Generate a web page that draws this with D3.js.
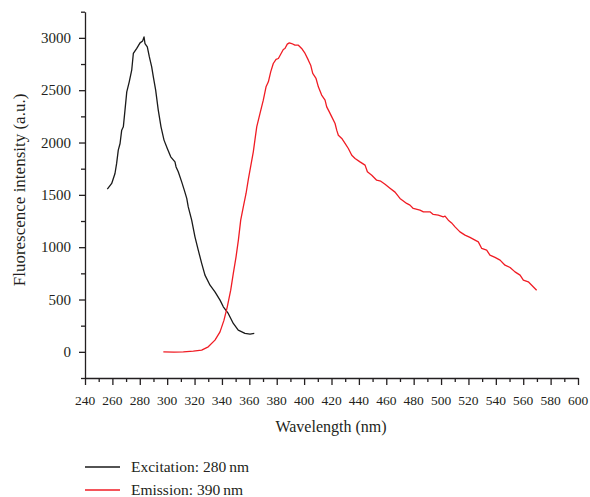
<!DOCTYPE html>
<html>
<head>
<meta charset="utf-8">
<script src="https://cdn.jsdelivr.net/npm/d3@7"></script>
<style>
  body { margin: 0; background: #fff; }
  svg text { font-family: "Liberation Serif", "DejaVu Serif", serif; fill: #231f20; }
</style>
</head>
<body>
<div id="chart"></div>
<script>
// excitation spectrum (wavelength nm, intensity a.u.)
const excWl = [256.3, 259.5, 261.9, 263.1, 264.3, 265.6, 266.8, 268.0, 269.2, 270.5, 272.3, 274.1, 275.3, 277.8, 280.2, 282.1, 283.1, 283.8, 285.5, 287.0, 288.7, 289.9, 291.6, 293.5, 295.5, 297.7, 300.1, 302.6, 305.7, 306.5, 308.1, 310.6, 312.5, 314.3, 315.4, 317.9, 320.3, 322.7, 325.2, 327.6, 331.3, 334.9, 338.6, 341.0, 344.6, 348.3, 351.9, 356.8, 360.5, 363.6];
const excVal = [1554, 1609, 1704, 1800, 1927, 1991, 2118, 2150, 2309, 2484, 2580, 2691, 2851, 2899, 2952, 2971, 3009, 2946, 2914, 2818, 2723, 2627, 2500, 2309, 2150, 2023, 1943, 1863, 1815, 1767, 1720, 1624, 1545, 1466, 1385, 1258, 1099, 972, 845, 733, 637, 573, 494, 430, 367, 271, 207, 176, 169, 176];

// emission spectrum
const emWl = [297.2, 305.0, 311.8, 319.1, 325.2, 330.0, 334.9, 338.6, 341.5, 343.9, 346.4, 348.3, 350.3, 352.0, 353.7, 355.6, 357.6, 359.3, 362.9, 365.4, 367.8, 370.2, 372.2, 373.9, 375.6, 377.5, 379.5, 381.2, 382.9, 384.8, 386.0, 387.7, 389.2, 390.9, 393.3, 395.8, 398.2, 400.7, 403.1, 404.8, 406.3, 408.7, 410.4, 412.8, 415.3, 416.5, 418.4, 420.2, 422.6, 423.8, 425.0, 427.5, 429.9, 432.3, 434.8, 437.2, 440.8, 444.5, 446.2, 449.4, 453.0, 456.0, 459.1, 462.7, 466.4, 470.0, 474.9, 477.3, 479.7, 484.6, 487.1, 491.9, 494.3, 498.0, 501.6, 502.9, 505.3, 507.7, 510.2, 513.8, 517.5, 521.1, 524.8, 527.2, 529.7, 533.3, 535.7, 539.4, 543.1, 546.7, 550.4, 554.0, 557.7, 560.1, 563.7, 566.2, 569.8];
const emVal = [0, -2, 0, 7, 16, 48, 112, 191, 303, 430, 589, 749, 908, 1067, 1258, 1385, 1513, 1650, 1911, 2150, 2278, 2405, 2532, 2580, 2675, 2755, 2794, 2803, 2844, 2889, 2899, 2940, 2952, 2946, 2930, 2930, 2899, 2851, 2787, 2739, 2660, 2612, 2532, 2453, 2405, 2341, 2293, 2245, 2182, 2118, 2070, 2039, 1991, 1943, 1879, 1848, 1815, 1784, 1720, 1688, 1640, 1630, 1602, 1564, 1526, 1466, 1418, 1402, 1370, 1354, 1338, 1338, 1313, 1306, 1290, 1296, 1258, 1232, 1194, 1146, 1115, 1093, 1067, 1051, 988, 972, 924, 902, 876, 828, 806, 764, 733, 685, 669, 637, 589];

const series = [
  { name: "Excitation: 280\u2009nm", color: "#1a1a1a", wl: excWl, val: excVal },
  { name: "Emission: 390\u2009nm", color: "#f01c24", wl: emWl, val: emVal }
];

const xTicks = d3.range(240, 601, 20);
const yTicks = d3.range(0, 3001, 500);

const width = 590, height = 497;

const svg = d3.select("#chart").append("svg")
  .attr("width", width)
  .attr("height", height);

const x = d3.scaleLinear().domain([240, 600]).range([85, 578]);
const y = d3.scaleLinear().domain([-250, 3250]).range([378, 11.7]);

// minor ticks
svg.append("g")
  .attr("transform", "translate(0,378)")
  .call(d3.axisBottom(x).tickValues(d3.range(250, 600, 20)).tickSize(4).tickFormat(""))
  .call(g => g.select(".domain").remove());
svg.append("g")
  .attr("transform", "translate(85,0)")
  .call(d3.axisLeft(y).tickValues(d3.range(-250, 3251, 500)).tickSize(4).tickFormat(""))
  .call(g => g.select(".domain").remove());

// major ticks, labels drawn below
svg.append("g")
  .attr("transform", "translate(0,378)")
  .call(d3.axisBottom(x).tickValues(xTicks).tickFormat("").tickSize(7).tickSizeOuter(0));
svg.append("g")
  .attr("transform", "translate(85,0)")
  .call(d3.axisLeft(y).tickValues(yTicks).tickFormat("").tickSize(6).tickSizeOuter(0));

svg.selectAll(".domain, .tick line").attr("stroke", "#231f20").attr("stroke-width", 1.3);

svg.append("g").selectAll("text")
  .data(xTicks)
  .enter().append("text")
  .attr("x", d => x(d))
  .attr("y", 400)
  .attr("dy", "0.35em")
  .attr("text-anchor", "middle")
  .style("font-family", "'Liberation Serif', serif")
  .style("font-size", "13.5px")
  .text(d => d);

svg.append("g").selectAll("text")
  .data(yTicks)
  .enter().append("text")
  .attr("x", 71)
  .attr("y", d => y(d))
  .attr("dy", "0.35em")
  .attr("text-anchor", "end")
  .style("font-family", "'Liberation Serif', serif")
  .style("font-size", "15px")
  .text(d => d);

// axis titles
svg.append("text")
  .attr("x", 331).attr("y", 432)
  .attr("text-anchor", "middle")
  .style("font-size", "16px")
  .text("Wavelength (nm)");

svg.append("text")
  .attr("transform", "translate(25,190) rotate(-90)")
  .attr("text-anchor", "middle")
  .style("font-size", "17px")
  .text("Fluorescence intensity (a.u.)");

// curves
const line = d3.line().x(d => x(d[0])).y(d => y(d[1]));
series.forEach(s => {
  svg.append("path")
    .datum(d3.zip(s.wl, s.val))
    .attr("d", line)
    .attr("fill", "none")
    .attr("stroke", s.color)
    .attr("stroke-width", 1.3)
    .attr("stroke-linejoin", "round");
});

// legend
const legend = svg.selectAll(".legend")
  .data(series)
  .enter().append("g")
  .attr("transform", (d, i) => `translate(85,${467 + i * 23})`);
legend.append("line")
  .attr("x1", 0).attr("x2", 35)
  .attr("stroke", d => d.color)
  .attr("stroke-width", 1.3);
legend.append("text")
  .attr("x", 46).attr("dy", "0.35em")
  .style("font-size", "15.5px")
  .text(d => d.name);
</script>
</body>
</html>
